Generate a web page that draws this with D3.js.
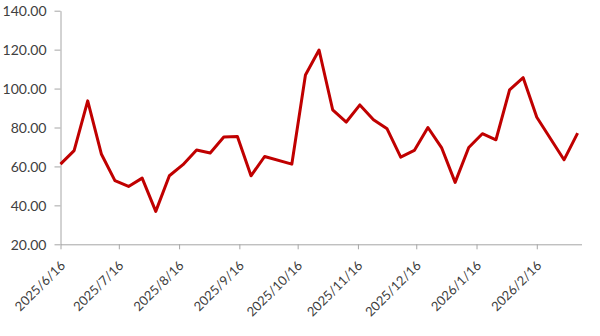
<!DOCTYPE html>
<html>
<head>
<meta charset="utf-8">
<script src="https://cdn.jsdelivr.net/npm/d3@7"></script>
<style>
    body { margin: 0; background: #fff; }
    svg { display: block; }
    .axis text { font-family: Lato, "Noto Sans", sans-serif; fill: #404040; }
    .y.axis text { font-size: 14px; }
    .x.axis text { font-size: 13px; }
    .axis path, .axis line { stroke: #a6a6a6; stroke-width: 1; }
    .line.series { fill: none; stroke: #c00000; stroke-width: 3; stroke-linejoin: round; }
</style>
</head>
<body>
<svg id="chart" width="600" height="336"></svg>
<script>
// weekly observations (holiday weeks 10/6 and 2/23 missing)
const dates = [
    "2025-06-16", "2025-06-23", "2025-06-30", "2025-07-07", "2025-07-14", "2025-07-21", "2025-07-28",
    "2025-08-04", "2025-08-11", "2025-08-18", "2025-08-25", "2025-09-01", "2025-09-08", "2025-09-15",
    "2025-09-22", "2025-09-29", "2025-10-13", "2025-10-20", "2025-10-27", "2025-11-03", "2025-11-10",
    "2025-11-17", "2025-11-24", "2025-12-01", "2025-12-08", "2025-12-15", "2025-12-22", "2025-12-29",
    "2026-01-05", "2026-01-12", "2026-01-19", "2026-01-26", "2026-02-02", "2026-02-09", "2026-02-16",
    "2026-03-02", "2026-03-09"
];
const values = [
    61.2, 68.1, 93.7, 66.4, 52.7, 49.7, 54.0,
    36.9, 55.2, 60.9, 68.4, 66.9, 75.1, 75.4,
    55.2, 65.1, 61.2, 107.0, 119.8, 89.1, 82.8,
    91.6, 84.0, 79.3, 64.8, 68.2, 80.0, 69.7,
    51.8, 69.7, 76.8, 73.7, 99.3, 105.6, 85.3,
    63.4, 77.1
];
const xTicks = [
    "2025-06-16", "2025-07-16", "2025-08-16", "2025-09-16", "2025-10-16",
    "2025-11-16", "2025-12-16", "2026-01-16", "2026-02-16"
];
const yTicks = [20, 40, 60, 80, 100, 120, 140];
const xDomain = ["2025-06-16", "2026-03-11"];

const parse = d3.timeParse("%Y-%m-%d");
const fmt = d3.timeFormat("%Y/%-m/%-d");
const data = dates.map((d, i) => ({date: parse(d), value: values[i]}));

const margin = {top: 10.7, right: 18, bottom: 91.7, left: 60.5};
const width = 521;
const height = 336 - margin.top - margin.bottom;

const svg = d3.select("#chart");
const chart = svg.append("g").attr("transform", "translate(" + margin.left + "," + margin.top + ")");

const xScale = d3.scaleTime().domain(xDomain.map(parse)).range([0, width]);
const yScale = d3.scaleLinear().domain([20, 140]).range([height, 0]);

// y axis
const yAxis = chart.append("g").attr("class", "y axis")
    .call(d3.axisLeft(yScale).tickValues(yTicks).tickSize(6).tickSizeOuter(0).tickPadding(8)
        .tickFormat(d3.format(".2f")));
yAxis.selectAll("text").attr("dy", "0.35em");

// x axis
const xAxis = chart.append("g").attr("class", "x axis")
    .attr("transform", "translate(0," + height + ")")
    .call(d3.axisBottom(xScale).tickValues(xTicks.map(parse)).tickSize(5).tickSizeOuter(0).tickFormat(fmt));
xAxis.selectAll("text")
    .attr("text-anchor", "end")
    .attr("dy", null)
    .attr("y", null)
    .attr("transform", "translate(5,22) rotate(-45)");

// series
const line = d3.line().x(d => xScale(d.date)).y(d => yScale(d.value));
chart.append("path").datum(data).attr("class", "line series").attr("d", line);
</script>
</body>
</html>
